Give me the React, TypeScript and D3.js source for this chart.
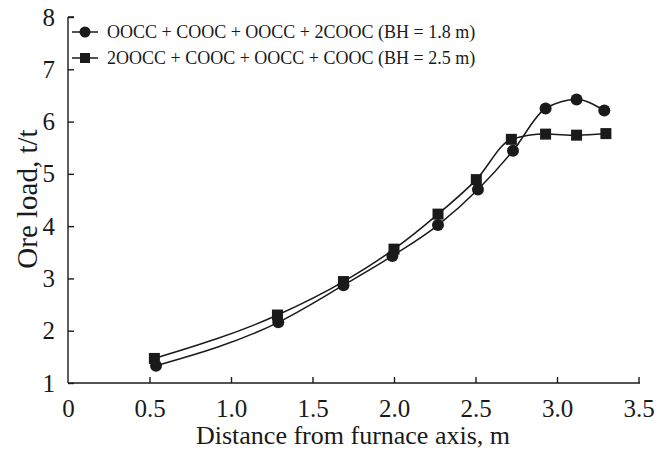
import React, { useEffect, useRef } from 'react';
import * as d3 from 'd3';

// series 1: circles
const distCircle = [0.54, 1.29, 1.69, 1.99, 2.27, 2.515, 2.73, 2.93, 3.12, 3.29];
const loadCircle = [1.33, 2.16, 2.87, 3.43, 4.02, 4.7, 5.44, 6.25, 6.42, 6.21];
// series 2: squares
const distSquare = [0.53, 1.285, 1.69, 2.0, 2.27, 2.505, 2.72, 2.93, 3.12, 3.3];
const loadSquare = [1.47, 2.3, 2.94, 3.56, 4.23, 4.89, 5.66, 5.76, 5.74, 5.77];

const legendLabels = [
  'OOCC + COOC + OOCC + 2COOC (BH = 1.8 m)',
  '2OOCC + COOC + OOCC + COOC (BH = 2.5 m)',
];
const xTicks = [0, 0.5, 1.0, 1.5, 2.0, 2.5, 3.0, 3.5];
const yTicks = [1, 2, 3, 4, 5, 6, 7, 8];

const W = 661;
const H = 458;
const FONT = "'Liberation Serif', 'DejaVu Serif', serif";
const INK = '#1a1a1a';

const App = () => {
  const svgRef = useRef<SVGSVGElement>(null);

  useEffect(() => {
    const svg = d3.select(svgRef.current);
    svg.selectAll('*').remove();

    const x = d3.scaleLinear().domain([0, 3.5]).range([68, 638.5]);
    const y = d3.scaleLinear().domain([1, 8]).range([383, 17]);

    // axes
    const xAxis = d3.axisBottom(x).tickValues(xTicks).tickSizeInner(-6).tickSizeOuter(0)
      .tickPadding(16).tickFormat(d => (d === 0 ? '0' : d3.format('.1f')(d as number)));
    const gx = svg.append('g').attr('transform', `translate(0,${y(1)})`).call(xAxis);
    gx.select('.domain').attr('d', `M${x(0)},0H${x(3.5) + 1.5}`);
    gx.selectAll('.tick').filter(d => d === 0).select('line').remove();

    const yAxis = d3.axisLeft(y).tickValues(yTicks).tickSizeInner(-6).tickSizeOuter(0)
      .tickPadding(13).tickFormat(d3.format('d'));
    const gy = svg.append('g').attr('transform', `translate(${x(0)},0)`).call(yAxis);
    gy.select('.domain').attr('d', `M0,${y(8)}H6M0,${y(8)}V${y(1)}`);

    [gx, gy].forEach(g => {
      g.attr('font-family', FONT).attr('font-size', 25);
      g.selectAll('text').attr('fill', INK);
      g.selectAll('line').attr('stroke', INK).attr('stroke-width', 1.4);
      g.select('.domain').attr('stroke', INK).attr('stroke-width', 1.4).attr('fill', 'none');
    });

    // titles
    svg.append('text').attr('x', 353).attr('y', 444).attr('text-anchor', 'middle')
      .attr('font-family', FONT).attr('font-size', 26).attr('fill', INK)
      .text('Distance from furnace axis, m');
    svg.append('text').attr('transform', `translate(37,199) rotate(-90)`).attr('text-anchor', 'middle')
      .attr('font-family', FONT).attr('font-size', 29).attr('fill', INK)
      .text('Ore load, t/t');

    const line = d3.line<[number, number]>().x(d => x(d[0])).y(d => y(d[1])).curve(d3.curveMonotoneX);

    const circles: [number, number][] = distCircle.map((d, i) => [d, loadCircle[i]]);
    const squares: [number, number][] = distSquare.map((d, i) => [d, loadSquare[i]]);

    svg.append('path').attr('d', line(squares)).attr('fill', 'none').attr('stroke', INK).attr('stroke-width', 1.5);
    svg.append('path').attr('d', line(circles)).attr('fill', 'none').attr('stroke', INK).attr('stroke-width', 1.5);

    svg.append('g').selectAll('rect').data(squares).join('rect')
      .attr('x', d => x(d[0]) - 5.5).attr('y', d => y(d[1]) - 5.5)
      .attr('width', 11).attr('height', 11).attr('fill', INK);
    svg.append('g').selectAll('circle').data(circles).join('circle')
      .attr('cx', d => x(d[0])).attr('cy', d => y(d[1])).attr('r', 6).attr('fill', INK);

    // legend
    const lg = svg.append('g');
    legendLabels.forEach((label, i) => {
      const ly = 32 + i * 26;
      lg.append('line').attr('x1', 72).attr('x2', 98).attr('y1', ly).attr('y2', ly)
        .attr('stroke', INK).attr('stroke-width', 1.5);
      if (i === 0) lg.append('circle').attr('cx', 85).attr('cy', ly).attr('r', 5.5).attr('fill', INK);
      else lg.append('rect').attr('x', 80).attr('y', ly - 5).attr('width', 10).attr('height', 10).attr('fill', INK);
      lg.append('text').attr('x', 107).attr('y', ly).attr('dy', '0.35em')
        .attr('font-family', FONT).attr('font-size', 18).attr('fill', INK).text(label);
    });
  }, []);

  return (
    <div style={{ position: 'absolute', left: 0, top: 0 }}>
      <svg ref={svgRef} width={W} height={H} style={{ display: 'block', background: '#fff' }} />
    </div>
  );
};

export default App;
